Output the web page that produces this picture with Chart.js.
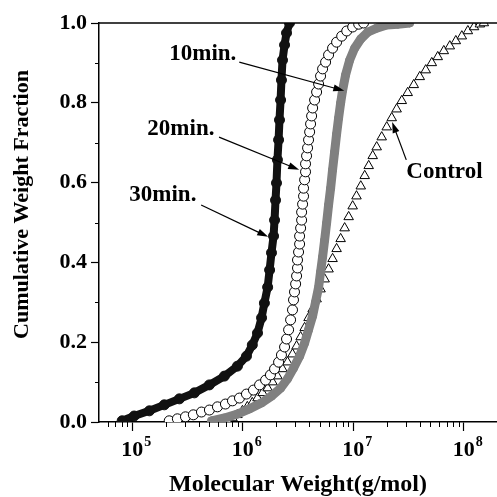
<!DOCTYPE html>
<html>
<head>
<meta charset="utf-8">
<script src="https://cdn.jsdelivr.net/npm/chart.js@4.4.1/dist/chart.umd.min.js"></script>
<style>
    html, body { margin: 0; padding: 0; background: #fff; }
    #wrap { width: 497px; height: 497px; }
</style>
</head>
<body>
<div id="wrap"><canvas id="mwdChart"></canvas></div>
<script>
const FONT = "'Liberation Serif', 'Times New Roman', serif";

// Cumulative weight fraction vs molecular weight (g/mol)
const mw30 = [8.1e4, 1.04e5, 1.43e5, 1.95e5, 2.67e5, 3.65e5, 4.99e5, 6.82e5, 8.95e5, 1.08e6,
    1.22e6, 1.36e6, 1.48e6, 1.57e6, 1.68e6, 1.75e6, 1.82e6, 1.90e6, 1.94e6, 1.98e6,
    2.02e6, 2.06e6, 2.11e6, 2.15e6, 2.20e6, 2.24e6, 2.29e6, 2.39e6, 2.49e6, 2.65e6];
const frac30 = [0.003, 0.015, 0.028, 0.043, 0.058, 0.073, 0.093, 0.115, 0.140, 0.165,
    0.193, 0.223, 0.261, 0.298, 0.338, 0.381, 0.424, 0.466, 0.506, 0.556,
    0.599, 0.657, 0.707, 0.757, 0.807, 0.857, 0.907, 0.945, 0.975, 1.0];

const mw20 = [2.16e5, 2.56e5, 3.03e5, 3.57e5, 4.23e5, 4.99e5, 5.90e5, 6.97e5, 8.07e5, 9.34e5,
    1.08e6, 1.25e6, 1.42e6, 1.61e6, 1.78e6, 1.94e6, 2.11e6, 2.24e6, 2.39e6, 2.49e6,
    2.60e6, 2.71e6, 2.82e6, 2.88e6, 2.94e6, 3.01e6, 3.07e6, 3.13e6, 3.13e6, 3.20e6,
    3.27e6, 3.27e6, 3.34e6, 3.41e6, 3.41e6, 3.48e6, 3.55e6, 3.55e6, 3.63e6, 3.70e6,
    3.70e6, 3.78e6, 3.86e6, 3.94e6, 4.03e6, 4.11e6, 4.20e6, 4.29e6, 4.47e6, 4.66e6,
    4.86e6, 5.06e6, 5.28e6, 5.62e6, 5.98e6, 6.50e6, 7.07e6, 7.86e6, 8.73e6, 9.88e6,
    1.12e7, 1.24e7];
const frac20 = [0.003, 0.008, 0.013, 0.018, 0.025, 0.030, 0.038, 0.045, 0.053, 0.060,
    0.070, 0.080, 0.093, 0.105, 0.118, 0.133, 0.150, 0.168, 0.188, 0.208,
    0.231, 0.256, 0.281, 0.306, 0.326, 0.346, 0.366, 0.386, 0.406, 0.426,
    0.446, 0.466, 0.486, 0.506, 0.526, 0.546, 0.566, 0.586, 0.607, 0.627,
    0.647, 0.667, 0.687, 0.707, 0.727, 0.747, 0.767, 0.787, 0.807, 0.827,
    0.847, 0.867, 0.885, 0.902, 0.920, 0.937, 0.952, 0.967, 0.980, 0.990,
    0.997, 1.0];

const mw10 = [5.20e5, 6.82e5, 8.95e5, 1.15e6, 1.48e6, 1.82e6, 2.20e6, 2.54e6, 2.88e6, 3.27e6,
    3.63e6, 3.94e6, 4.29e6, 4.56e6, 4.86e6, 5.06e6, 5.28e6, 5.51e6, 5.74e6, 5.98e6,
    6.24e6, 6.50e6, 6.78e6, 7.07e6, 7.37e6, 7.69e6, 8.02e6, 8.53e6, 9.28e6, 1.03e7,
    1.17e7, 1.35e7, 1.63e7, 2.01e7, 2.53e7, 3.25e7];
const frac10 = [0.003, 0.010, 0.020, 0.033, 0.048, 0.065, 0.085, 0.108, 0.135, 0.165,
    0.198, 0.231, 0.266, 0.301, 0.338, 0.376, 0.414, 0.456, 0.499, 0.544,
    0.586, 0.632, 0.677, 0.722, 0.762, 0.800, 0.832, 0.870, 0.907, 0.937,
    0.960, 0.977, 0.987, 0.995, 0.997, 1.0];

const mwControl = [7.26e5, 8.07e5, 8.95e5, 9.94e5, 1.10e6, 1.22e6, 1.36e6, 1.51e6, 1.68e6, 1.86e6,
    2.06e6, 2.29e6, 2.54e6, 2.82e6, 3.07e6, 3.34e6, 3.63e6, 3.94e6, 4.29e6, 4.66e6,
    5.06e6, 5.51e6, 5.98e6, 6.50e6, 7.07e6, 7.69e6, 8.36e6, 9.09e6, 9.88e6, 1.07e7,
    1.17e7, 1.27e7, 1.38e7, 1.50e7, 1.63e7, 1.81e7, 2.01e7, 2.23e7, 2.47e7, 2.75e7,
    3.11e7, 3.53e7, 4.00e7, 4.53e7, 5.14e7, 5.82e7, 6.60e7, 7.48e7, 8.48e7, 9.61e7,
    1.09e8, 1.24e8, 1.40e8, 1.52e8];
const fracControl = [0.003, 0.010, 0.018, 0.028, 0.038, 0.048, 0.060, 0.073, 0.085, 0.100,
    0.115, 0.133, 0.150, 0.170, 0.190, 0.213, 0.236, 0.261, 0.283, 0.308,
    0.333, 0.358, 0.383, 0.409, 0.434, 0.459, 0.486, 0.514, 0.541, 0.566,
    0.591, 0.617, 0.642, 0.667, 0.689, 0.714, 0.739, 0.762, 0.784, 0.805,
    0.825, 0.845, 0.865, 0.882, 0.900, 0.915, 0.930, 0.942, 0.955, 0.967,
    0.980, 0.990, 0.997, 1.0];

const seriesNames = ['30min.', '20min.', '10min.', 'Control'];

// Axis ticks
const xTickValues = [1e5, 1e6, 1e7, 1e8];
const xTickExponents = ['5', '6', '7', '8'];
const yTickStep = 0.2;

// Callout labels: text anchor (left/baseline) and arrow from -> to, in data units
const callouts = [
    { text: '10min.', at: [2.16e5, 0.907], from: [9.3e5, 0.902], to: [8.3e6, 0.830] },
    { text: '20min.', at: [1.37e5, 0.719], from: [6.1e5, 0.714], to: [3.24e6, 0.632] },
    { text: '30min.', at: [9.4e4, 0.554], from: [4.2e5, 0.544], to: [1.70e6, 0.464] },
    { text: 'Control', at: [3.02e7, 0.611], from: [3.02e7, 0.657], to: [2.25e7, 0.752] }
];

function toPoints(xs, ys) {
    return xs.map((x, i) => ({ x: x, y: ys[i] }));
}

/**
 * Draws the frame line, minor ticks, superscript tick labels,
 * the rotated y title and the arrow callouts
 */
const decorations = {
    id: 'decorations',
    afterDraw(chart) {
        const ctx = chart.ctx;
        const xs = chart.scales.x;
        const ys = chart.scales.y;
        const area = chart.chartArea;

        ctx.save();
        ctx.strokeStyle = '#000';
        ctx.fillStyle = '#000';

        // top frame line
        ctx.lineWidth = 1.5;
        ctx.beginPath();
        ctx.moveTo(area.left, area.top);
        ctx.lineTo(area.right, area.top);
        ctx.stroke();

        // minor ticks
        ctx.lineWidth = 1;
        ctx.beginPath();
        for (let e = 4; e <= 8; e++) {
            for (let k = 2; k <= 9; k++) {
                const v = k * Math.pow(10, e);
                if (v <= xs.min || v >= xs.max) continue;
                const px = Math.round(xs.getPixelForValue(v)) + 0.5;
                ctx.moveTo(px, area.bottom);
                ctx.lineTo(px, area.bottom + 5);
            }
        }
        for (let v = 0.1; v < 1; v += yTickStep) {
            const py = Math.round(ys.getPixelForValue(v)) + 0.5;
            ctx.moveTo(area.left - 4, py);
            ctx.lineTo(area.left, py);
        }
        ctx.stroke();

        // x tick labels: 10 with superscript exponent
        ctx.textBaseline = 'alphabetic';
        xTickValues.forEach((v, i) => {
            const px = xs.getPixelForValue(v);
            ctx.font = 'bold 22px ' + FONT;
            ctx.textAlign = 'center';
            const w = ctx.measureText('10').width;
            ctx.fillText('10', px, area.bottom + 34);
            ctx.font = 'bold 14px ' + FONT;
            ctx.textAlign = 'left';
            ctx.fillText(xTickExponents[i], px + w / 2 + 1, area.bottom + 24);
        });

        // y axis title
        ctx.save();
        ctx.font = 'bold 22px ' + FONT;
        ctx.textAlign = 'center';
        ctx.textBaseline = 'middle';
        ctx.translate(22, area.top + (area.bottom - area.top) * 0.455);
        ctx.rotate(-Math.PI / 2);
        ctx.fillText('Cumulative Weight Fraction', 0, 0);
        ctx.restore();

        // callouts
        callouts.forEach(c => {
            ctx.font = 'bold 23px ' + FONT;
            ctx.textAlign = 'left';
            ctx.textBaseline = 'alphabetic';
            ctx.fillText(c.text, xs.getPixelForValue(c.at[0]), ys.getPixelForValue(c.at[1]));

            const x1 = xs.getPixelForValue(c.from[0]);
            const y1 = ys.getPixelForValue(c.from[1]);
            const x2 = xs.getPixelForValue(c.to[0]);
            const y2 = ys.getPixelForValue(c.to[1]);
            const ang = Math.atan2(y2 - y1, x2 - x1);
            const head = 11;
            ctx.lineWidth = 1.2;
            ctx.beginPath();
            ctx.moveTo(x1, y1);
            ctx.lineTo(x2 - Math.cos(ang) * head * 0.8, y2 - Math.sin(ang) * head * 0.8);
            ctx.stroke();
            ctx.beginPath();
            ctx.moveTo(x2, y2);
            ctx.lineTo(x2 - head * Math.cos(ang) + 3.5 * Math.sin(ang), y2 - head * Math.sin(ang) - 3.5 * Math.cos(ang));
            ctx.lineTo(x2 - head * Math.cos(ang) - 3.5 * Math.sin(ang), y2 - head * Math.sin(ang) + 3.5 * Math.cos(ang));
            ctx.closePath();
            ctx.fill();
        });

        ctx.restore();
    }
};

const ctx = document.getElementById('mwdChart').getContext('2d');

new Chart(ctx, {
    type: 'scatter',
    data: {
        datasets: [
            {
                label: seriesNames[0],
                data: toPoints(mw30, frac30),
                showLine: true,
                borderColor: '#111',
                borderWidth: 8,
                pointStyle: 'circle',
                pointRadius: 5,
                pointBackgroundColor: '#111',
                pointBorderColor: '#111',
                pointBorderWidth: 1
            },
            {
                label: seriesNames[1],
                data: toPoints(mw20, frac20),
                showLine: false,
                pointStyle: 'circle',
                pointRadius: 5,
                pointBackgroundColor: '#fff',
                pointBorderColor: '#000',
                pointBorderWidth: 1
            },
            {
                label: seriesNames[2],
                data: toPoints(mw10, frac10),
                showLine: true,
                borderColor: '#808080',
                borderWidth: 9,
                pointStyle: 'circle',
                pointRadius: 4,
                pointBackgroundColor: '#808080',
                pointBorderColor: '#808080',
                pointBorderWidth: 1
            },
            {
                label: seriesNames[3],
                data: toPoints(mwControl, fracControl),
                showLine: false,
                pointStyle: 'triangle',
                pointRadius: 5.5,
                pointBackgroundColor: '#fff',
                pointBorderColor: '#000',
                pointBorderWidth: 1
            }
        ]
    },
    options: {
        responsive: true,
        maintainAspectRatio: false,
        animation: false,
        layout: { autoPadding: false, padding: { top: 23, right: 0, bottom: 0, left: 0 } },
        plugins: {
            legend: { display: false },
            tooltip: { enabled: false }
        },
        scales: {
            x: {
                type: 'logarithmic',
                min: 5e4,
                max: 2e8,
                afterBuildTicks: scale => {
                    scale.ticks = xTickValues.map(v => ({ value: v, major: true }));
                },
                afterFit: scale => { scale.height = 75; },
                ticks: { display: false },
                grid: {
                    drawOnChartArea: false,
                    drawTicks: true,
                    tickLength: 9,
                    color: '#000',
                    tickWidth: 1.2
                },
                border: { color: '#000', width: 1.5 },
                title: {
                    display: true,
                    text: 'Molecular Weight(g/mol)',
                    color: '#000',
                    font: { family: FONT, size: 24, weight: 'bold', lineHeight: 1 },
                    padding: { top: 0, bottom: 0 }
                }
            },
            y: {
                min: 0,
                max: 1,
                afterFit: scale => { scale.width = 99; },
                ticks: {
                    stepSize: yTickStep,
                    callback: v => v.toFixed(1),
                    color: '#000',
                    padding: 4,
                    font: { family: FONT, size: 22, weight: 'bold' }
                },
                grid: {
                    drawOnChartArea: false,
                    drawTicks: true,
                    tickLength: 8,
                    color: '#000',
                    tickWidth: 1.2
                },
                border: { color: '#000', width: 1.5 }
            }
        }
    },
    plugins: [decorations]
});
</script>
</body>
</html>
